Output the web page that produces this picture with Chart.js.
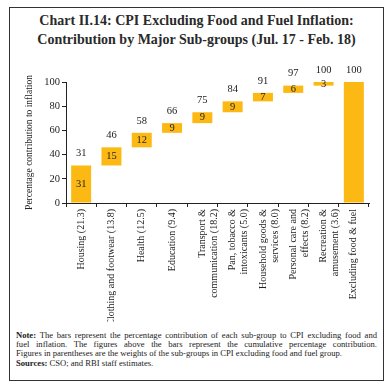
<!DOCTYPE html>
<html>
<head>
<meta charset="utf-8">
<script src="https://cdn.jsdelivr.net/npm/chart.js@4.4.0/dist/chart.umd.min.js"></script>
<style>
  body { margin: 0; background: #fff; font-family: "Liberation Serif", serif; color: #222; }
  #frame { position: absolute; left: 9px; top: 7px; width: 375px; height: 374px; border: 1.5px solid #333; box-sizing: border-box; }
  #title { position: absolute; left: 9px; top: 11px; width: 375px; text-align: center; font-weight: bold; font-size: 14px; line-height: 19px; color: #2a2a2a; }
  #chartBox { position: absolute; left: 10px; top: 40px; width: 372px; height: 282px; }
  #note { position: absolute; left: 16px; top: 331px; width: 361px; font-size: 8.6px; line-height: 9.2px; }
  #note .j { text-align: justify; text-align-last: justify; }
  #sources { position: absolute; left: 16px; top: 358px; font-size: 8.6px; }
</style>
</head>
<body>
<div id="frame"></div>
<div id="title">Chart II.14: CPI Excluding Food and Fuel Inflation:<br>Contribution by Major Sub-groups (Jul. 17 - Feb. 18)</div>
<div id="chartBox"><canvas id="cpiChart"></canvas></div>
<div id="note">
  <div class="j"><b>Note:</b> The bars represent the percentage contribution of each sub-group to CPI excluding food and</div>
  <div class="j">fuel inflation. The figures above the bars represent the cumulative percentage contribution.</div>
  <div>Figures in parentheses are the weights of the sub-groups in CPI excluding food and fuel group.</div>
</div>
<div id="sources"><b>Sources:</b> CSO; and RBI staff estimates.</div>
<script>
// categories (weights in parentheses)
const categories = [
  'Housing (21.3)',
  'Clothing and footwear (13.8)',
  'Health (12.5)',
  'Education (9.4)',
  ['Transport &', 'communication (18.2)'],
  ['Pan, tobacco &', 'intoxicants (5.0)'],
  ['Household goods &', 'services (8.0)'],
  ['Personal care and', 'effects (8.2)'],
  ['Recreation &', 'amusement (3.6)'],
  'Excluding food & fuel'
];
// contribution of each sub-group (label inside bar)
const contribution = [31, 15, 12, 9, 9, 9, 7, 6, 3];
// cumulative contribution (label above bar)
const cumulative = [31, 46, 58, 66, 75, 84, 91, 97, 100, 100];
const yTicks = [0, 10, 20, 30, 40, 50, 60, 70, 80, 90, 100];

// floating bars: each sub-group starts where the previous one ended
const bars = categories.map(function (c, i) {
  if (i < contribution.length) {
    return [i === 0 ? 0 : cumulative[i - 1], cumulative[i]];
  }
  return [0, cumulative[i]];
});

const barLabels = {
  id: 'barLabels',
  afterDatasetsDraw(chart) {
    const ctx = chart.ctx;
    const meta = chart.getDatasetMeta(0);
    ctx.save();
    ctx.font = '10.5px "Liberation Serif"';
    ctx.fillStyle = '#222';
    ctx.textAlign = 'center';
    ctx.textBaseline = 'middle';
    meta.data.forEach(function (bar, i) {
      const p = bar.getProps(['x', 'y', 'base'], true);
      ctx.fillText(cumulative[i], p.x, p.y - 12);
      if (i < contribution.length) {
        ctx.fillText(contribution[i], p.x, (p.y + p.base) / 2);
      }
    });
    ctx.restore();
  }
};

const ctx = document.getElementById('cpiChart').getContext('2d');
new Chart(ctx, {
  type: 'bar',
  data: {
    labels: categories,
    datasets: [{
      data: bars,
      backgroundColor: '#fdb913',
      borderWidth: 0,
      barPercentage: 0.66,
      categoryPercentage: 1
    }]
  },
  options: {
    responsive: true,
    maintainAspectRatio: false,
    animation: false,
    layout: { padding: { top: 42, right: 13, left: 0, bottom: 0 } },
    plugins: {
      legend: { display: false },
      tooltip: { enabled: false }
    },
    scales: {
      x: {
        afterFit: function (s) { s.height = 119; },
        grid: { drawOnChartArea: false, tickLength: 4, color: '#222', offset: true },
        border: { color: '#222' },
        ticks: {
          autoSkip: false,
          minRotation: 90,
          maxRotation: 90,
          padding: 2,
          color: '#222',
          font: { family: 'Liberation Serif', size: 10 }
        }
      },
      y: {
        min: 0,
        max: 100,
        afterFit: function (s) { s.width = 56; },
        afterBuildTicks: function (s) { s.ticks = yTicks.map(v => ({ value: v })); },
        grid: { drawOnChartArea: false, tickLength: 4, color: '#222' },
        border: { color: '#222' },
        ticks: {
          padding: 2,
          color: '#222',
          font: { family: 'Liberation Serif', size: 10.5 }
        },
        title: {
          display: true,
          text: 'Percentage contribution to inflation',
          color: '#222',
          padding: { top: 14, bottom: 0 },
          font: { family: 'Liberation Serif', size: 9.5 }
        }
      }
    }
  },
  plugins: [barLabels]
});
</script>
</body>
</html>
